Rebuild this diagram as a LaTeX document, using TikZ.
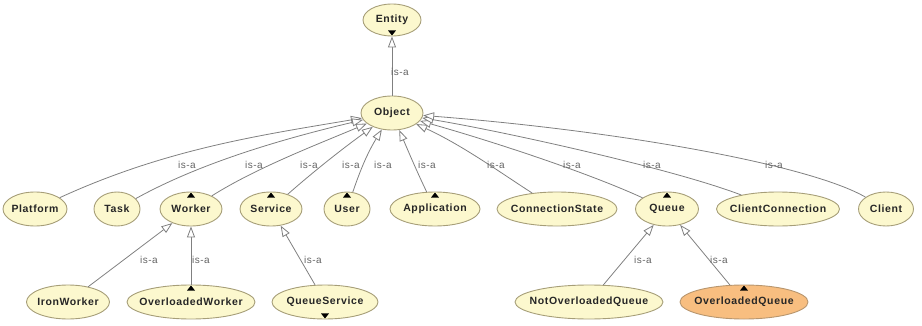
\documentclass[tikz,border=0pt]{standalone}
\usepackage{fontspec}
\setmainfont{Liberation Sans}
\newfontfamily\classfont[LetterSpace=6]{Liberation Sans}
\newfontfamily\linkfont[LetterSpace=5]{Liberation Sans}
\usetikzlibrary{shapes.geometric,arrows.meta}

\definecolor{classfill}{RGB}{252,248,206}
\definecolor{classedge}{RGB}{166,158,120}
\definecolor{hotfill}{RGB}{248,190,128}
\definecolor{hotedge}{RGB}{184,150,110}
\definecolor{linkgray}{RGB}{128,128,128}
\definecolor{labelgray}{RGB}{100,100,100}

% text of zero width, so the ellipse size comes from minimum width/height only
\newcommand\centred[1]{\makebox[0pt]{#1}}
% expand/collapse markers
\newcommand\upmark[1]{\fill[black] ([yshift=-1pt]#1.north) -- ++(-4,-5) -- ++(8,0) -- cycle;}
\newcommand\downmark[1]{\fill[black] ([yshift=1pt]#1.south) -- ++(-4,5) -- ++(8,0) -- cycle;}

\tikzset{
  cls/.style={ellipse, draw=classedge, fill=classfill, line width=0.9pt,
    minimum height=34pt, inner sep=0pt,
    font=\classfont\bfseries\fontsize{10.5}{12}\selectfont, text=black!85},
  hot/.style={cls, fill=hotfill, draw=hotedge},
  isa/.style={draw=linkgray, line width=0.8pt,
    -{Triangle[length=11pt,width=8pt,fill=white]}},
  isalabel/.style={font=\linkfont\fontsize{10}{12}\selectfont,
    text=labelgray, inner sep=0pt},
}

\begin{document}
\begin{tikzpicture}[x=1pt,y=1pt]
\useasboundingbox (0,0) rectangle (922,325);

% classes
\node[cls, minimum width=58pt, minimum height=32pt] (Entity) at (392,305) {\centred{Entity}};
\node[cls, minimum width=62pt] (Object) at (392,212) {\centred{Object}};

\node[cls, minimum width=64pt]  (Platform)         at (35,116)  {\centred{Platform}};
\node[cls, minimum width=46pt]  (Task)             at (117,116) {\centred{Task}};
\node[cls, minimum width=62pt]  (Worker)           at (191,116) {\centred{Worker}};
\node[cls, minimum width=62pt]  (Service)          at (271,116) {\centred{Service}};
\node[cls, minimum width=46pt]  (User)             at (347,116) {\centred{User}};
\node[cls, minimum width=90pt]  (Application)      at (435,116) {\centred{Application}};
\node[cls, minimum width=120pt] (ConnectionState)  at (557,116) {\centred{ConnectionState}};
\node[cls, minimum width=63pt]  (Queue)            at (667,116) {\centred{Queue}};
\node[cls, minimum width=123pt] (ClientConnection) at (778,116) {\centred{ClientConnection}};
\node[cls, minimum width=55pt]  (Client)           at (886,116) {\centred{Client}};

\node[cls, minimum width=83pt]  (IronWorker)         at (68,23)  {\centred{IronWorker}};
\node[cls, minimum width=128pt] (OverloadedWorker)   at (191,23) {\centred{OverloadedWorker}};
\node[cls, minimum width=106pt] (QueueService)       at (325,23) {\centred{QueueService}};
\node[cls, minimum width=148pt] (NotOverloadedQueue) at (589,23) {\centred{NotOverloadedQueue}};
\node[hot, minimum width=128pt] (OverloadedQueue)    at (744,23) {\centred{OverloadedQueue}};

% is-a links
\draw[isa] (Object) -- (Entity);

\draw[isa] (Platform)         .. controls (167,176.5) and (262,190)   .. (Object);
\draw[isa] (Task)             .. controls (200,162)   and (282,186)   .. (Object);
\draw[isa] (Worker)           .. controls (256,157)   and (316,180)   .. (Object);
\draw[isa] (Service)          .. controls (313,153)   and (342,176)   .. (Object);
\draw[isa] (User)             .. controls (360.5,155.5) and (367.6,172.3) .. (Object);
\draw[isa] (Application)      .. controls (418,151)   and (409,172)   .. (Object);
\draw[isa] (ConnectionState)  .. controls (501,152)   and (462,180)   .. (Object);
\draw[isa] (Queue)            .. controls (584,154)   and (486,185.5) .. (Object);
\draw[isa] (ClientConnection) .. controls (670,157.2) and (497,194.8) .. (Object);
\draw[isa] (Client)           .. controls (810,160)   and (622,194)   .. (Object);

\draw[isa] (IronWorker)         -- (Worker);
\draw[isa] (OverloadedWorker)   -- (Worker);
\draw[isa] (QueueService)       -- (Service);
\draw[isa] (NotOverloadedQueue) -- (Queue);
\draw[isa] (OverloadedQueue)    -- (Queue);

% link labels
\node[isalabel] (lbEntity)   at (400,253) {is-a};
\node[isalabel] (lbPlatform) at (187,160) {is-a};
\node[isalabel] (lbTask)     at (254,160) {is-a};
\node[isalabel] (lbWorker)   at (309,160) {is-a};
\node[isalabel] (lbService)  at (351,160) {is-a};
\node[isalabel] (lbUser)     at (383,160) {is-a};
\node[isalabel] (lbApp)      at (427,160) {is-a};
\node[isalabel] (lbConnSt)   at (496,160) {is-a};
\node[isalabel] (lbQueue)    at (572,160) {is-a};
\node[isalabel] (lbClConn)   at (652,160) {is-a};
\node[isalabel] (lbClient)   at (774,160) {is-a};
\node[isalabel] (lbIron)     at (149,65) {is-a};
\node[isalabel] (lbOvWorker) at (201,65) {is-a};
\node[isalabel] (lbQService) at (313,65) {is-a};
\node[isalabel] (lbNotOvQ)   at (643,65) {is-a};
\node[isalabel] (lbOvQ)      at (719,65) {is-a};

% expand/collapse markers
\downmark{Entity}
\upmark{Worker}
\upmark{Service}
\upmark{User}
\upmark{Application}
\upmark{Queue}
\upmark{OverloadedWorker}
\downmark{QueueService}
\upmark{OverloadedQueue}
\end{tikzpicture}
\end{document}
